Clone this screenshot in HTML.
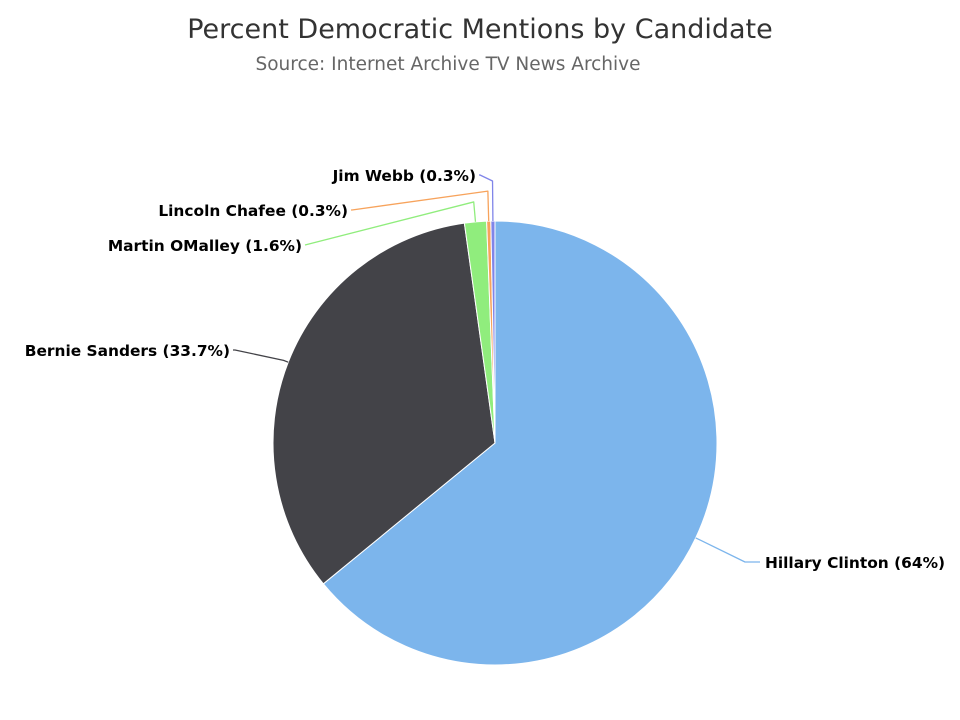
<!DOCTYPE html>
<html><head><meta charset="utf-8"><style>
body{margin:0;background:#fff;}
svg{display:block;font-family:"DejaVu Sans","Liberation Sans",sans-serif;}
</style></head><body>
<svg id="chart" width="960" height="720">
<text x="480" y="38" text-anchor="middle" font-size="27" fill="#333">Percent Democratic Mentions by Candidate</text>
<text x="448" y="70" text-anchor="middle" font-size="18.5" fill="#666">Source: Internet Archive TV News Archive</text>
<g id="slices"></g><g id="labels"></g>
</svg>
<script>
const categories=["Hillary Clinton","Bernie Sanders","Martin OMalley","Lincoln Chafee","Jim Webb"];
const values=[64,33.7,1.6,0.3,0.3];
const colors=["#7cb5ec","#434348","#90ed7d","#f7a35c","#8085e9"];
// label layout: [elbow x, elbow y, text x, anchor, outward offset]
const layout=[[745,562,765,"start",5],[235,350,230,"end",5],[305,245,302,"end",20],[352,210,348,"end",30],[480,175,476,"end",40]];
const cx=495,cy=443,r=222,NS="http://www.w3.org/2000/svg";
const total=values.reduce((a,b)=>a+b,0);
const pt=(a,rr)=>[cx+rr*Math.sin(a),cy-rr*Math.cos(a)];
let a0=0;
const gS=document.getElementById('slices'),gL=document.getElementById('labels');
values.forEach((v,i)=>{
  const a1=a0+v/total*2*Math.PI;
  const p0=pt(a0,r),p1=pt(a1,r);
  const path=document.createElementNS(NS,'path');
  path.setAttribute('d',`M${cx},${cy}L${p0[0]},${p0[1]}A${r},${r} 0 ${a1-a0>Math.PI?1:0} 1 ${p1[0]},${p1[1]}Z`);
  path.setAttribute('fill',colors[i]);path.setAttribute('stroke','#fff');path.setAttribute('stroke-width','1');
  
  
  gS.appendChild(path);
  const L=layout[i];
  const am=(a0+a1)/2,e=pt(am,r),o=pt(am,r+L[4]);
  const ln=document.createElementNS(NS,'path');
  ln.setAttribute('d',`M${e[0]},${e[1]}L${o[0]},${o[1]}L${L[0]},${L[1]}L${L[2]+(L[3]=="end"?3:-5)},${L[1]}`);
  ln.setAttribute('fill','none');ln.setAttribute('stroke',colors[i]);ln.setAttribute('stroke-width','1.3');
  ln.setAttribute('stroke-linejoin','round');
  
  
  gL.appendChild(ln);
  const t=document.createElementNS(NS,'text');
  t.setAttribute('x',L[2]);t.setAttribute('y',L[1]+6);t.setAttribute('text-anchor',L[3]);
  t.setAttribute('font-size','15.4');t.setAttribute('font-weight','bold');t.setAttribute('fill','#000');
  t.textContent=categories[i]+' ('+values[i]+'%)';
  
  
  gL.appendChild(t);
  a0=a1;
});
</script>
</body></html>
